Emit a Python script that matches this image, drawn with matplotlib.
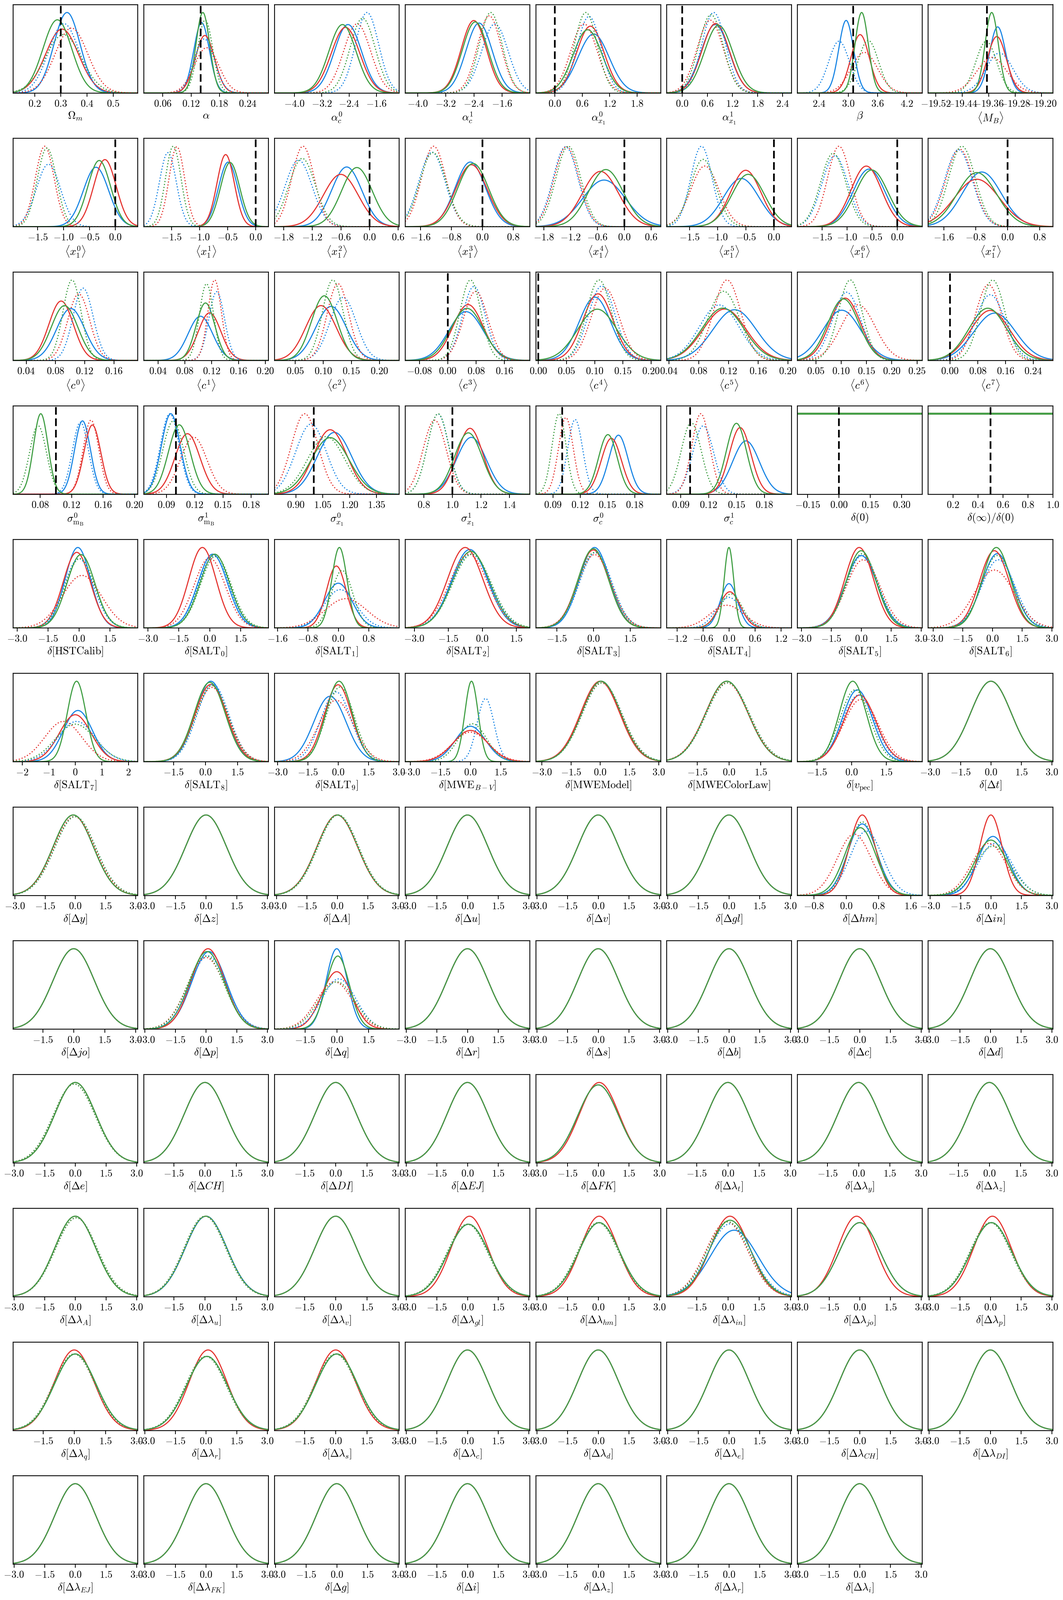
import numpy as np
import matplotlib
matplotlib.use("Agg")
import matplotlib.pyplot as plt

plt.rcParams['mathtext.fontset'] = 'cm'
plt.rcParams['font.family'] = ['serif']
plt.rcParams['font.serif'] = ['cmr10', 'DejaVu Serif']
plt.rcParams['axes.unicode_minus'] = False

# ---------------- data ----------------
LABELS = [
    r"$\Omega_m$", r"$\alpha$", r"$\alpha_c^0$", r"$\alpha_c^1$", r"$\alpha_{x_1}^0$", r"$\alpha_{x_1}^1$", r"$\beta$", r"$\langle M_B\rangle$",
    r"$\langle x_1^0\rangle$", r"$\langle x_1^1\rangle$", r"$\langle x_1^2\rangle$", r"$\langle x_1^3\rangle$", r"$\langle x_1^4\rangle$", r"$\langle x_1^5\rangle$", r"$\langle x_1^6\rangle$", r"$\langle x_1^7\rangle$",
    r"$\langle c^0\rangle$", r"$\langle c^1\rangle$", r"$\langle c^2\rangle$", r"$\langle c^3\rangle$", r"$\langle c^4\rangle$", r"$\langle c^5\rangle$", r"$\langle c^6\rangle$", r"$\langle c^7\rangle$",
    r"$\sigma_{\mathrm{m_B}}^0$", r"$\sigma_{\mathrm{m_B}}^1$", r"$\sigma_{x_1}^0$", r"$\sigma_{x_1}^1$", r"$\sigma_c^0$", r"$\sigma_c^1$", r"$\delta(0)$", r"$\delta(\infty)/\delta(0)$",
    r"$\delta[\mathrm{HSTCalib}]$", r"$\delta[\mathrm{SALT}_0]$", r"$\delta[\mathrm{SALT}_1]$", r"$\delta[\mathrm{SALT}_2]$", r"$\delta[\mathrm{SALT}_3]$", r"$\delta[\mathrm{SALT}_4]$", r"$\delta[\mathrm{SALT}_5]$", r"$\delta[\mathrm{SALT}_6]$",
    r"$\delta[\mathrm{SALT}_7]$", r"$\delta[\mathrm{SALT}_8]$", r"$\delta[\mathrm{SALT}_9]$", r"$\delta[\mathrm{MWE}_{B-V}]$", r"$\delta[\mathrm{MWEModel}]$", r"$\delta[\mathrm{MWEColorLaw}]$", r"$\delta[v_{\mathrm{pec}}]$", r"$\delta[\Delta t]$",
    r"$\delta[\Delta y]$", r"$\delta[\Delta z]$", r"$\delta[\Delta A]$", r"$\delta[\Delta u]$", r"$\delta[\Delta v]$", r"$\delta[\Delta gl]$", r"$\delta[\Delta hm]$", r"$\delta[\Delta in]$",
    r"$\delta[\Delta jo]$", r"$\delta[\Delta p]$", r"$\delta[\Delta q]$", r"$\delta[\Delta r]$", r"$\delta[\Delta s]$", r"$\delta[\Delta b]$", r"$\delta[\Delta c]$", r"$\delta[\Delta d]$",
    r"$\delta[\Delta e]$", r"$\delta[\Delta CH]$", r"$\delta[\Delta DI]$", r"$\delta[\Delta EJ]$", r"$\delta[\Delta FK]$", r"$\delta[\Delta\lambda_t]$", r"$\delta[\Delta\lambda_y]$", r"$\delta[\Delta\lambda_z]$",
    r"$\delta[\Delta\lambda_A]$", r"$\delta[\Delta\lambda_u]$", r"$\delta[\Delta\lambda_v]$", r"$\delta[\Delta\lambda_{gl}]$", r"$\delta[\Delta\lambda_{hm}]$", r"$\delta[\Delta\lambda_{in}]$", r"$\delta[\Delta\lambda_{jo}]$", r"$\delta[\Delta\lambda_p]$",
    r"$\delta[\Delta\lambda_q]$", r"$\delta[\Delta\lambda_r]$", r"$\delta[\Delta\lambda_s]$", r"$\delta[\Delta\lambda_c]$", r"$\delta[\Delta\lambda_d]$", r"$\delta[\Delta\lambda_e]$", r"$\delta[\Delta\lambda_{CH}]$", r"$\delta[\Delta\lambda_{DI}]$",
    r"$\delta[\Delta\lambda_{EJ}]$", r"$\delta[\Delta\lambda_{FK}]$", r"$\delta[\Delta g]$", r"$\delta[\Delta i]$", r"$\delta[\Delta\lambda_z]$", r"$\delta[\Delta\lambda_r]$", r"$\delta[\Delta\lambda_i]$",
]

T3 = ["-3.0", "-1.5", "0.0", "1.5", "3.0"]
T3L = ["-3.0", "-1.5", "0.0", "1.5"]
T3R = ["-1.5", "0.0", "1.5", "3.0"]
T3C = ["-1.5", "0.0", "1.5"]

TICKS = [
    ["0.2", "0.3", "0.4", "0.5"], ["0.06", "0.12", "0.18", "0.24"], ["-4.0", "-3.2", "-2.4", "-1.6"], ["-4.0", "-3.2", "-2.4", "-1.6"],
    ["0.0", "0.6", "1.2", "1.8"], ["0.0", "0.6", "1.2", "1.8", "2.4"], ["2.4", "3.0", "3.6", "4.2"], ["-19.52", "-19.44", "-19.36", "-19.28", "-19.20"],
    ["-1.5", "-1.0", "-0.5", "0.0"], ["-1.5", "-1.0", "-0.5", "0.0"], ["-1.8", "-1.2", "-0.6", "0.0", "0.6"], ["-1.6", "-0.8", "0.0", "0.8"],
    ["-1.8", "-1.2", "-0.6", "0.0", "0.6"], ["-1.5", "-1.0", "-0.5", "0.0"], ["-1.5", "-1.0", "-0.5", "0.0"], ["-1.6", "-0.8", "0.0", "0.8"],
    ["0.04", "0.08", "0.12", "0.16"], ["0.04", "0.08", "0.12", "0.16", "0.20"], ["0.05", "0.10", "0.15", "0.20"], ["-0.08", "0.00", "0.08", "0.16"],
    ["0.00", "0.05", "0.10", "0.15", "0.20"], ["0.04", "0.08", "0.12", "0.16", "0.20"], ["0.05", "0.10", "0.15", "0.20", "0.25"], ["0.00", "0.08", "0.16", "0.24"],
    ["0.08", "0.12", "0.16", "0.20"], ["0.09", "0.12", "0.15", "0.18"], ["0.90", "1.05", "1.20", "1.35"], ["0.8", "1.0", "1.2", "1.4"],
    ["0.09", "0.12", "0.15", "0.18"], ["0.09", "0.12", "0.15", "0.18"], ["-0.15", "0.00", "0.15", "0.30"], ["0.2", "0.4", "0.6", "0.8", "1.0"],
    T3L, T3L, ["-1.6", "-0.8", "0.0", "0.8"], T3L, T3C, ["-1.2", "-0.6", "0.0", "0.6", "1.2"], T3, T3,
    ["-2", "-1", "0", "1", "2"], T3C, T3, T3L, T3, T3C, T3C, T3,
    T3, T3, T3, T3, T3, T3, ["-0.8", "0.0", "0.8", "1.6"], T3,
    T3R, T3, T3C, T3, T3, T3, T3, T3,
    T3, T3R, T3R, T3, T3, T3R, T3R, T3R,
    T3, T3R, T3R, T3, T3, T3R, T3, T3,
    T3R, T3, T3R, T3, T3, T3, T3, T3,
    T3, T3, T3, T3, T3, T3, T3,
]

XLO = [0.117, 0.0197, -4.586, -4.357, -0.415, -0.373, 1.952, -19.5432,
       -1.976, -1.996, -1.992, -1.996, -1.976, -1.907, -1.991, -1.994,
       0.0219, 0.0187, 0.0131, -0.1203, -0.0042, 0.0368, 0.0135, -0.063,
       0.0455, 0.0658, 0.7804, 0.669, 0.0712, 0.0749, -0.199, 0.0,
       -3.2, -3.2, -1.68, -3.4, -2.35, -1.44, -3.2, -3.25,
       -2.35, -2.9, -3.15, -3.25, -3.3, -2.95, -2.35, -3.1,
       -3.1, -3.05, -3.1, -3.05, -3.05, -3.05, -1.21, -3.1,
       -2.95, -3.05, -2.95, -3.05, -3.05, -3.05, -3.05, -3.05,
       -3.05, -2.95, -2.95, -3.05, -3.05, -2.95, -2.95, -2.95,
       -3.05, -2.95, -2.95, -3.05, -3.05, -2.95, -3.05, -3.05,
       -2.95, -3.05, -2.95, -3.05, -3.05, -3.05, -3.05, -3.05,
       -3.05, -3.05, -3.05, -3.05, -3.05, -3.05, -3.05]

XHI = [0.594, 0.2837, -0.931, -0.805, 2.317, 2.61, 4.516, -19.1657,
       0.431, 0.227, 0.621, 1.231, 0.814, 0.31, 0.498, 1.134,
       0.1926, 0.2046, 0.235, 0.232, 0.217, 0.2046, 0.2601, 0.296,
       0.2039, 0.1984, 1.477, 1.543, 0.2086, 0.209, 0.398, 1.0,
       2.85, 2.85, 1.6, 2.1, 2.75, 1.44, 3.05, 3.05,
       2.35, 2.95, 3.02, 2.95, 3.1, 2.95, 3.05, 3.05,
       3.1, 3.05, 3.05, 3.05, 3.05, 3.05, 1.88, 3.05,
       3.1, 3.05, 2.95, 3.05, 3.05, 3.05, 3.05, 3.05,
       3.05, 3.05, 3.05, 3.05, 3.05, 3.05, 3.05, 3.05,
       3.05, 3.05, 3.05, 3.05, 3.05, 3.05, 3.05, 3.05,
       3.05, 3.05, 3.05, 3.05, 3.05, 3.05, 3.05, 3.05,
       3.05, 3.05, 3.05, 3.05, 3.05, 3.05, 3.05]

N = None
TRUTH = [0.3, 0.14, N, N, 0.0, 0.0, 3.1, -19.365,
         0.0, 0.0, 0.0, 0.0, 0.0, 0.0, 0.0, 0.0,
         N, N, N, 0.0, 0.0, N, N, 0.0,
         0.1, 0.1, 1.0, 1.0, 0.1, 0.1, 0.0, 0.5] + [N] * 63

FLAT = [30, 31]  # panels showing flat (uniform) posteriors

# (mode, width) of each curve: solid blue, red, green; dotted blue, red, green
MU_B = [0.324, 0.1424, -2.43, -2.25, 0.85, 0.79, 2.956, -19.3325,
        -0.372, -0.49, -0.477, -0.308, -0.45, -0.58, -0.56, -0.646,
        0.101, 0.1033, 0.114, 0.0519, 0.1006, 0.1283, 0.1014, 0.129,
        0.1339, 0.0947, 1.116, 1.133, 0.1622, 0.1603, N, N,
        -0.05, 0.15, 0.0, -0.55, 0.05, 0.0, 0.0, 0.25,
        0.1, 0.25, -0.4, 0.0, 0.05, -0.1, 0.25, 0.0,
        -0.1, 0.0, 0.0, 0.0, 0.0, 0.0, 0.4, 0.1,
        0.0, 0.15, 0.0, 0.0, 0.0, 0.0, 0.0, 0.0,
        0.0, 0.0, 0.0, 0.0, 0.0, 0.0, 0.0, 0.0,
        0.0, 0.05, 0.0, 0.05, 0.05, 0.3, 0.0, 0.05,
        0.05, 0.05, 0.05, 0.0, 0.0, 0.0, 0.0, 0.0,
        0.0, 0.0, 0.0, 0.0, 0.0, 0.0, 0.0]
SD_B = [0.050, 0.0166, 0.40, 0.373, 0.34, 0.335, 0.152, 0.0246,
        0.245, 0.172, 0.318, 0.392, 0.478, 0.317, 0.32, 0.49,
        0.0192, 0.0182, 0.0274, 0.049, 0.0281, 0.0292, 0.0375, 0.06,
        0.0101, 0.010, 0.097, 0.1055, 0.0105, 0.0145, N, N,
        0.62, 0.72, 0.36, 0.8, 0.62, 0.20, 0.8, 0.78,
        0.55, 0.72, 0.8, 0.75, 1.0, 1.0, 0.65, 1.0,
        1.0, 1.0, 1.0, 1.0, 1.0, 1.0, 0.36, 0.75,
        1.0, 0.85, 0.5, 1.0, 1.0, 1.0, 1.0, 1.0,
        1.0, 1.0, 1.0, 1.0, 1.0, 1.0, 1.0, 1.0,
        1.0, 1.0, 1.0, 1.0, 1.0, 1.15, 1.0, 1.0,
        1.0, 1.0, 1.0, 1.0, 1.0, 1.0, 1.0, 1.0,
        1.0, 1.0, 1.0, 1.0, 1.0, 1.0, 1.0]
MU_R = [0.305, 0.1493, -2.50, -2.40, 0.78, 0.80, 3.243, -19.335,
        -0.20, -0.534, -0.60, -0.281, -0.53, -0.50, -0.614, -0.77,
        0.0879, 0.117, 0.096, 0.0576, 0.106, 0.1149, 0.1081, 0.116,
        0.1464, 0.1124, 1.092, 1.124, 0.1544, 0.154, N, N,
        -0.1, -0.35, -0.05, -0.75, 0.0, 0.02, -0.1, 0.1,
        0.0, 0.25, 0.0, 0.0, 0.0, -0.1, 0.35, 0.0,
        -0.1, 0.0, 0.0, 0.0, 0.0, 0.0, 0.4, 0.0,
        0.0, 0.1, 0.0, 0.0, 0.0, 0.0, 0.0, 0.0,
        0.0, 0.0, 0.0, 0.0, 0.05, 0.0, 0.0, 0.0,
        0.0, 0.05, 0.0, 0.1, 0.05, 0.1, -0.15, 0.1,
        0.0, 0.1, 0.0, 0.0, 0.0, 0.0, 0.0, 0.0,
        0.0, 0.0, 0.0, 0.0, 0.0, 0.0, 0.0]
SD_R = [0.063, 0.0203, 0.417, 0.36, 0.30, 0.33, 0.189, 0.0288,
        0.217, 0.154, 0.363, 0.409, 0.403, 0.271, 0.304, 0.565,
        0.0168, 0.0169, 0.027, 0.0428, 0.0267, 0.0288, 0.0302, 0.0568,
        0.0107, 0.0133, 0.093, 0.091, 0.0111, 0.0116, N, N,
        0.66, 0.66, 0.26, 0.78, 0.64, 0.245, 0.72, 0.75,
        0.6, 0.75, 0.68, 0.85, 1.0, 1.0, 0.7, 1.0,
        1.0, 1.0, 1.0, 1.0, 1.0, 1.0, 0.32, 0.55,
        1.0, 0.82, 0.7, 1.0, 1.0, 1.0, 1.0, 1.0,
        1.0, 1.0, 1.0, 1.0, 0.97, 1.0, 1.0, 1.0,
        1.0, 1.0, 1.0, 0.9, 0.92, 0.95, 0.92, 0.92,
        0.95, 0.92, 0.95, 1.0, 1.0, 1.0, 1.0, 1.0,
        1.0, 1.0, 1.0, 1.0, 1.0, 1.0, 1.0]
MU_G = [0.287, 0.145, -2.59, -2.36, 0.72, 0.87, 3.275, -19.3505,
        -0.31, -0.455, -0.263, -0.237, -0.41, -0.457, -0.505, -0.77,
        0.0926, 0.1109, 0.102, 0.0547, 0.1048, 0.1126, 0.1047, 0.109,
        0.0809, 0.1037, 1.092, 1.112, 0.1506, 0.150, N, N,
        0.1, 0.25, 0.03, -0.5, 0.0, 0.0, 0.0, 0.2,
        0.05, 0.2, 0.05, 0.05, 0.05, -0.1, 0.05, 0.0,
        -0.1, 0.0, 0.0, 0.0, 0.0, 0.0, 0.35, 0.0,
        0.0, 0.05, 0.05, 0.0, 0.0, 0.0, 0.0, 0.0,
        0.0, 0.0, 0.0, 0.0, 0.0, 0.0, 0.0, 0.0,
        0.0, 0.05, 0.0, 0.05, 0.05, 0.1, 0.0, 0.05,
        0.05, 0.05, 0.05, 0.0, 0.0, 0.0, 0.0, 0.0,
        0.0, 0.0, 0.0, 0.0, 0.0, 0.0, 0.0]
SD_G = [0.055, 0.0145, 0.40, 0.367, 0.317, 0.339, 0.137, 0.0202,
        0.22, 0.173, 0.321, 0.401, 0.39, 0.292, 0.325, 0.495,
        0.0182, 0.014, 0.0229, 0.0459, 0.0347, 0.0283, 0.0306, 0.0544,
        0.0092, 0.0116, 0.106, 0.0977, 0.0104, 0.0109, N, N,
        0.68, 0.72, 0.2, 0.82, 0.63, 0.11, 0.75, 0.72,
        0.35, 0.73, 0.65, 0.33, 1.0, 1.0, 0.58, 1.0,
        1.0, 1.0, 1.0, 1.0, 1.0, 1.0, 0.38, 0.8,
        1.0, 0.85, 0.55, 1.0, 1.0, 1.0, 1.0, 1.0,
        1.0, 1.0, 1.0, 1.0, 1.0, 1.0, 1.0, 1.0,
        1.0, 1.0, 1.0, 1.0, 1.0, 1.0, 1.0, 1.0,
        1.0, 1.0, 1.0, 1.0, 1.0, 1.0, 1.0, 1.0,
        1.0, 1.0, 1.0, 1.0, 1.0, 1.0, 1.0]
MU_BD = [0.312, 0.148, -1.87, -1.80, 0.75, 0.754, 2.81, -19.327,
         -1.29, -1.564, -1.485, -1.30, -1.31, -1.287, -1.24, -1.23,
         0.118, 0.1276, 0.1353, 0.074, 0.1127, 0.1076, 0.111, 0.116,
         0.1313, 0.0936, 0.985, 0.90, 0.1145, 0.1143, N, N,
         0.0, 0.2, 0.05, -0.5, 0.1, 0.0, 0.05, 0.3,
         0.05, 0.35, -0.1, 0.75, 0.1, -0.05, 0.3, 0.0,
         0.0, 0.0, 0.05, 0.0, 0.0, 0.0, 0.5, 0.2,
         0.0, 0.1, 0.1, 0.0, 0.0, 0.0, 0.0, 0.0,
         -0.05, 0.0, 0.0, 0.0, 0.0, 0.0, 0.0, 0.0,
         0.05, 0.05, 0.0, 0.0, 0.0, 0.1, 0.0, 0.0,
         0.0, 0.0, 0.0, 0.0, 0.0, 0.0, 0.0, 0.0,
         0.0, 0.0, 0.0, 0.0, 0.0, 0.0, 0.0]
SD_BD = [0.058, 0.0216, 0.34, 0.378, 0.262, 0.285, 0.213, 0.0407,
         0.233, 0.15, 0.285, 0.34, 0.279, 0.19, 0.26, 0.348,
         0.0138, 0.0117, 0.0235, 0.0323, 0.0239, 0.0267, 0.0276, 0.0432,
         0.0103, 0.010, 0.0855, 0.0747, 0.0083, 0.0113, N, N,
         0.72, 0.74, 0.42, 0.85, 0.66, 0.29, 0.8, 0.85,
         0.7, 0.75, 0.75, 0.42, 1.02, 1.02, 0.7, 1.0,
         1.02, 1.0, 1.0, 1.0, 1.0, 1.0, 0.4, 0.85,
         1.0, 0.9, 0.8, 1.0, 1.0, 1.0, 1.0, 1.0,
         1.02, 1.0, 1.0, 1.0, 1.0, 1.0, 1.0, 1.0,
         1.02, 1.0, 1.0, 1.0, 1.0, 1.05, 1.0, 1.0,
         1.0, 1.0, 1.0, 1.0, 1.0, 1.0, 1.0, 1.0,
         1.0, 1.0, 1.0, 1.0, 1.0, 1.0, 1.0]
MU_RD = [0.341, 0.153, -2.16, -1.96, 0.64, 0.67, 3.33, -19.35,
         -1.362, -1.404, -1.392, -1.257, -1.29, -1.227, -1.159, -1.205,
         0.112, 0.1246, 0.1262, 0.079, 0.1188, 0.1182, 0.1338, 0.111,
         0.1447, 0.119, 0.95, 0.876, 0.1043, 0.1117, N, N,
         0.15, 0.0, 0.2, -0.6, 0.05, -0.05, 0.1, 0.1,
         -0.45, 0.3, -0.1, 0.0, 0.05, -0.1, 0.4, 0.0,
         -0.05, 0.0, 0.0, 0.0, 0.0, 0.0, 0.2, -0.1,
         0.0, 0.0, -0.1, 0.0, 0.0, 0.0, 0.0, 0.0,
         -0.05, 0.0, 0.0, 0.0, 0.0, 0.0, 0.0, 0.0,
         0.05, 0.0, 0.0, 0.0, 0.0, -0.05, 0.0, 0.0,
         0.0, 0.0, 0.0, 0.0, 0.0, 0.0, 0.0, 0.0,
         0.0, 0.0, 0.0, 0.0, 0.0, 0.0, 0.0]
SD_RD = [0.062, 0.0258, 0.396, 0.338, 0.29, 0.315, 0.272, 0.0457,
         0.181, 0.139, 0.236, 0.315, 0.278, 0.252, 0.229, 0.345,
         0.015, 0.010, 0.0193, 0.0346, 0.0246, 0.0184, 0.0338, 0.0374,
         0.010, 0.0141, 0.0745, 0.081, 0.0081, 0.0096, N, N,
         0.95, 0.76, 0.55, 0.85, 0.68, 0.39, 0.85, 1.0,
         0.7, 0.78, 0.85, 0.9, 1.02, 1.02, 0.75, 1.0,
         1.02, 1.0, 1.0, 1.0, 1.0, 1.0, 0.42, 0.85,
         1.0, 0.92, 0.85, 1.0, 1.0, 1.0, 1.0, 1.0,
         1.02, 1.0, 1.0, 1.0, 1.0, 1.0, 1.0, 1.0,
         1.02, 1.0, 1.0, 1.0, 1.0, 1.02, 1.0, 1.0,
         1.0, 1.0, 1.0, 1.0, 1.0, 1.0, 1.0, 1.0,
         1.0, 1.0, 1.0, 1.0, 1.0, 1.0, 1.0]
MU_GD = [0.31, 0.15, -2.0, -1.92, 0.68, 0.69, 3.41, -19.367,
         -1.32, -1.468, -1.41, -1.275, -1.25, -1.257, -1.275, -1.145,
         0.1028, 0.1124, 0.1171, 0.0643, 0.1079, 0.1136, 0.1182, 0.123,
         0.0774, 0.0972, 1.07, 0.90, 0.0968, 0.1014, N, N,
         0.05, 0.3, 0.1, -0.45, 0.05, 0.05, 0.05, 0.25,
         0.0, 0.3, 0.1, 0.1, 0.1, -0.05, 0.15, 0.0,
         0.0, 0.0, 0.05, 0.0, 0.0, 0.0, 0.4, 0.1,
         0.0, 0.0, 0.0, 0.0, 0.0, 0.0, 0.0, 0.0,
         -0.05, 0.0, 0.0, 0.0, 0.0, 0.0, 0.0, 0.0,
         0.05, 0.0, 0.0, 0.0, 0.0, 0.0, 0.0, 0.0,
         0.0, 0.0, 0.0, 0.0, 0.0, 0.0, 0.0, 0.0,
         0.0, 0.0, 0.0, 0.0, 0.0, 0.0, 0.0]
SD_GD = [0.069, 0.016, 0.366, 0.324, 0.249, 0.293, 0.21, 0.0315,
         0.185, 0.138, 0.278, 0.342, 0.277, 0.227, 0.251, 0.333,
         0.0124, 0.0105, 0.0184, 0.0297, 0.0221, 0.0214, 0.0234, 0.0353,
         0.0108, 0.011, 0.104, 0.0745, 0.0077, 0.0108, N, N,
         0.72, 0.74, 0.28, 0.85, 0.66, 0.26, 0.78, 0.8,
         0.75, 0.76, 0.7, 0.7, 1.02, 1.02, 0.65, 1.0,
         1.02, 1.0, 1.0, 1.0, 1.0, 1.0, 0.35, 0.9,
         1.0, 0.9, 0.85, 1.0, 1.0, 1.0, 1.0, 1.0,
         1.02, 1.0, 1.0, 1.0, 1.0, 1.0, 1.0, 1.0,
         1.02, 1.0, 1.0, 1.0, 1.0, 1.02, 1.0, 1.0,
         1.0, 1.0, 1.0, 1.0, 1.0, 1.0, 1.0, 1.0,
         1.0, 1.0, 1.0, 1.0, 1.0, 1.0, 1.0]

COLORS = ["#1E88E5", "#E53935", "#43A047"]

# ---------------- layout ----------------
W_PX, H_PX, DPI = 4172, 6277, 100
fig = plt.figure(figsize=(W_PX / DPI, H_PX / DPI), dpi=DPI)
L0, AW, PX = 50.6 / W_PX, 489.5 / W_PX, 513.1 / W_PX
T0, AH, PY = 17.5 / H_PX, 347.0 / H_PX, 524.7 / H_PX

series = [(MU_B, SD_B, COLORS[0], '-'), (MU_R, SD_R, COLORS[1], '-'), (MU_G, SD_G, COLORS[2], '-'),
          (MU_BD, SD_BD, COLORS[0], ':'), (MU_RD, SD_RD, COLORS[1], ':'), (MU_GD, SD_GD, COLORS[2], ':')]


def fmt(s):
    return "$" + s + "$"


for i, lab in enumerate(LABELS):
    r, c = divmod(i, 8)
    ax = fig.add_axes([L0 + c * PX, 1 - T0 - r * PY - AH, AW, AH])
    lo, hi = XLO[i], XHI[i]
    x = np.linspace(lo, hi, 600)
    curves = []
    if i in FLAT:
        for k in range(3):
            y = np.full_like(x, 1.0 / (hi - lo))
            curves.append((y, COLORS[k], '-', 5.5))
    else:
        for mu, sd, col, ls in series:
            y = np.exp(-0.5 * ((x - mu[i]) / sd[i]) ** 2) / sd[i]
            curves.append((y, col, ls, 3.2))
    ymax = max(cv[0].max() for cv in curves)
    for y, col, ls, lw in curves:
        ax.plot(x, y, color=col, ls=ls, lw=lw, solid_capstyle='round')
    if TRUTH[i] is not None:
        ax.axvline(TRUTH[i], color='k', ls='--', lw=4.8, dashes=(4.5, 2.2))
    ax.set_xlim(lo, hi)
    ax.set_ylim(0, 1.1 * ymax)
    ax.set_yticks([])
    pos = [float(s) for s in TICKS[i]]
    ax.set_xticks(pos)
    ax.set_xticklabels([fmt(s) for s in TICKS[i]])
    ax.tick_params(axis='x', direction='out', length=10, width=2.2, labelsize=28, pad=9)
    for sp in ax.spines.values():
        sp.set_linewidth(2.4)
    ax.set_xlabel(lab, fontsize=30, labelpad=6)

fig.savefig("out.png", dpi=DPI)
